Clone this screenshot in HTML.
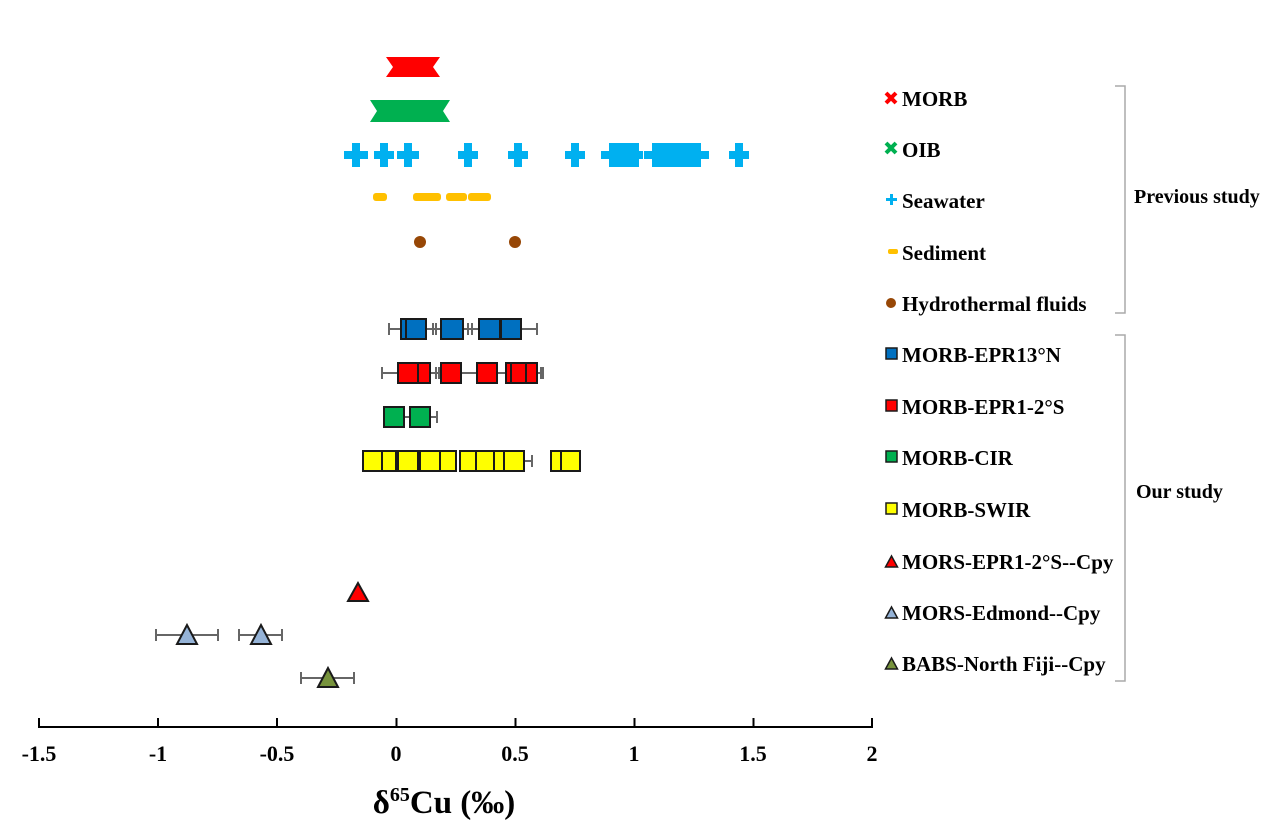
<!DOCTYPE html>
<html><head><meta charset="utf-8"><style>
html,body{margin:0;padding:0;background:#fff}
svg{display:block}
text{font-family:"Liberation Serif",serif;font-weight:bold;fill:#000}
</style></head><body>
<svg width="1267" height="822" viewBox="0 0 1267 822" xmlns="http://www.w3.org/2000/svg">
<polygon points="386,57 440,57 433,67 440,77 386,77 393,67" fill="#ff0000"/>
<polygon points="370,100 450,100 443,111 450,122 370,122 377,111" fill="#00b050"/>
<g fill="#00b0f0">
<path d="M344,151h8v-8h8v8h8v8h-8v8h-8v-8h-8z"/>
<path d="M374,151h6v-8h8v8h6v8h-6v8h-8v-8h-6z"/>
<path d="M397,151h7v-8h8v8h7v8h-7v8h-8v-8h-7z"/>
<path d="M458,151h6v-8h8v8h6v8h-6v8h-8v-8h-6z"/>
<path d="M508,151h6v-8h8v8h6v8h-6v8h-8v-8h-6z"/>
<path d="M565,151h6v-8h8v8h6v8h-6v8h-8v-8h-6z"/>
<path d="M601,151h8v-8h30v8h4v8h-4v8h-30v-8h-8z"/>
<path d="M644,151h8v-8h49v8h8v8h-8v8h-49v-8h-8z"/>
<path d="M729,151h6v-8h8v8h6v8h-6v8h-8v-8h-6z"/>
</g>
<g fill="#ffc000">
<rect x="373" y="193" width="14" height="8" rx="3"/>
<rect x="413" y="193" width="28" height="8" rx="3"/>
<rect x="446" y="193" width="21" height="8" rx="3"/>
<rect x="468" y="193" width="23" height="8" rx="3"/>
</g>
<circle cx="420" cy="242" r="6" fill="#974706"/>
<circle cx="515" cy="242" r="6" fill="#974706"/>
<g stroke="#666" stroke-width="2" fill="none">
<path d="M389,329H537M389,323v12M537,323v12M433,323v12M436,323v12M468,323v12M472,323v12"/>
<path d="M382,373H543M382,367v12M543,367v12M436,367v12M439,367v12M541,367v12"/>
<path d="M404,417H437M437,411v12"/>
<path d="M525,461H532M532,455v12"/>
<path d="M156,635H218M156,629v12M218,629v12M239,635H282M239,629v12M282,629v12"/>
<path d="M301,678H354M301,672v12M354,672v12"/>
</g>
<g fill="#0070c0" stroke="#1a1a1a" stroke-width="2">
<rect x="401" y="319" width="20" height="20"/><rect x="406" y="319" width="20" height="20"/>
<rect x="441" y="319" width="22" height="20"/>
<rect x="479" y="319" width="21" height="20"/><rect x="501" y="319" width="20" height="20"/>
</g>
<g fill="#ff0000" stroke="#1a1a1a" stroke-width="2">
<rect x="398" y="363" width="20" height="20"/><rect x="418" y="363" width="12" height="20"/>
<rect x="441" y="363" width="20" height="20"/>
<rect x="477" y="363" width="20" height="20"/>
<rect x="506" y="363" width="20" height="20"/><rect x="511" y="363" width="20" height="20"/><rect x="526" y="363" width="11" height="20"/>
</g>
<g fill="#00b050" stroke="#1a1a1a" stroke-width="2">
<rect x="384" y="407" width="20" height="20"/><rect x="410" y="407" width="20" height="20"/>
</g>
<g fill="#ffff00" stroke="#1a1a1a" stroke-width="2">
<rect x="363" y="451" width="20" height="20"/><rect x="382" y="451" width="14" height="20"/>
<rect x="398" y="451" width="20" height="20"/><rect x="420" y="451" width="20" height="20"/><rect x="440" y="451" width="16" height="20"/>
<rect x="460" y="451" width="20" height="20"/><rect x="476" y="451" width="18" height="20"/><rect x="494" y="451" width="10" height="20"/><rect x="504" y="451" width="20" height="20"/>
<rect x="551" y="451" width="10" height="20"/><rect x="561" y="451" width="19" height="20"/>
</g>
<g stroke="#1a1a1a" stroke-width="2">
<polygon points="358,583 348,601 368,601" fill="#ff0000"/>
<polygon points="187,625 177,644 197,644" fill="#95b3d7"/>
<polygon points="261,625 251,644 271,644" fill="#95b3d7"/>
<polygon points="328,668 318,687 338,687" fill="#77933c"/>
</g>
<g stroke="#000" stroke-width="2">
<path d="M38,727H873"/>
<path d="M39,718v9M158,718v9M277,718v9M396.5,718v9M515.5,718v9M634.5,718v9M753.5,718v9M872,718v9"/>
</g>
<g font-size="22" text-anchor="middle">
<text x="39" y="761">-1.5</text><text x="158" y="761">-1</text><text x="277" y="761">-0.5</text><text x="396" y="761">0</text>
<text x="515" y="761">0.5</text><text x="634" y="761">1</text><text x="753" y="761">1.5</text><text x="872" y="761">2</text>
</g>
<text x="444" y="813" font-size="33" text-anchor="middle">δ<tspan font-size="20" dy="-12">65</tspan><tspan dy="12">Cu (‰)</tspan></text>
<g stroke="#ff0000" stroke-width="4"><path d="M886,93l10,10M896,93l-10,10"/></g>
<g stroke="#00b050" stroke-width="4"><path d="M886,143l10,10M896,143l-10,10"/></g>
<path d="M886,198h4v-4h3v4h4v3h-4v4h-3v-4h-4z" fill="#00b0f0"/>
<rect x="888" y="249" width="10" height="5" rx="2" fill="#ffc000"/>
<circle cx="891" cy="303" r="5" fill="#974706"/>
<g stroke="#1a1a1a" stroke-width="1.5">
<rect x="886" y="348" width="11" height="11" fill="#0070c0"/>
<rect x="886" y="400" width="11" height="11" fill="#ff0000"/>
<rect x="886" y="451" width="11" height="11" fill="#00b050"/>
<rect x="886" y="503" width="11" height="11" fill="#ffff00"/>
<polygon points="891.5,556 885.5,567 897.5,567" fill="#ff0000"/>
<polygon points="891.5,607 885.5,618 897.5,618" fill="#95b3d7"/>
<polygon points="891.5,658 885.5,669 897.5,669" fill="#77933c"/>
</g>
<g font-size="21">
<text x="902" y="106">MORB</text><text x="902" y="157">OIB</text><text x="902" y="208">Seawater</text>
<text x="902" y="260">Sediment</text><text x="902" y="311">Hydrothermal fluids</text>
<text x="902" y="362">MORB-EPR13°N</text><text x="902" y="414">MORB-EPR1-2°S</text><text x="902" y="465">MORB-CIR</text>
<text x="902" y="517">MORB-SWIR</text><text x="902" y="569">MORS-EPR1-2°S--Cpy</text><text x="902" y="620">MORS-Edmond--Cpy</text>
<text x="902" y="671">BABS-North Fiji--Cpy</text>
</g>
<g font-size="20">
<text x="1134" y="203">Previous study</text><text x="1136" y="498">Our study</text>
</g>
<g stroke="#aaa" stroke-width="1.5" fill="none">
<path d="M1115,86h10V313h-10"/><path d="M1115,335h10V681h-10"/>
</g>
</svg>
</body></html>
